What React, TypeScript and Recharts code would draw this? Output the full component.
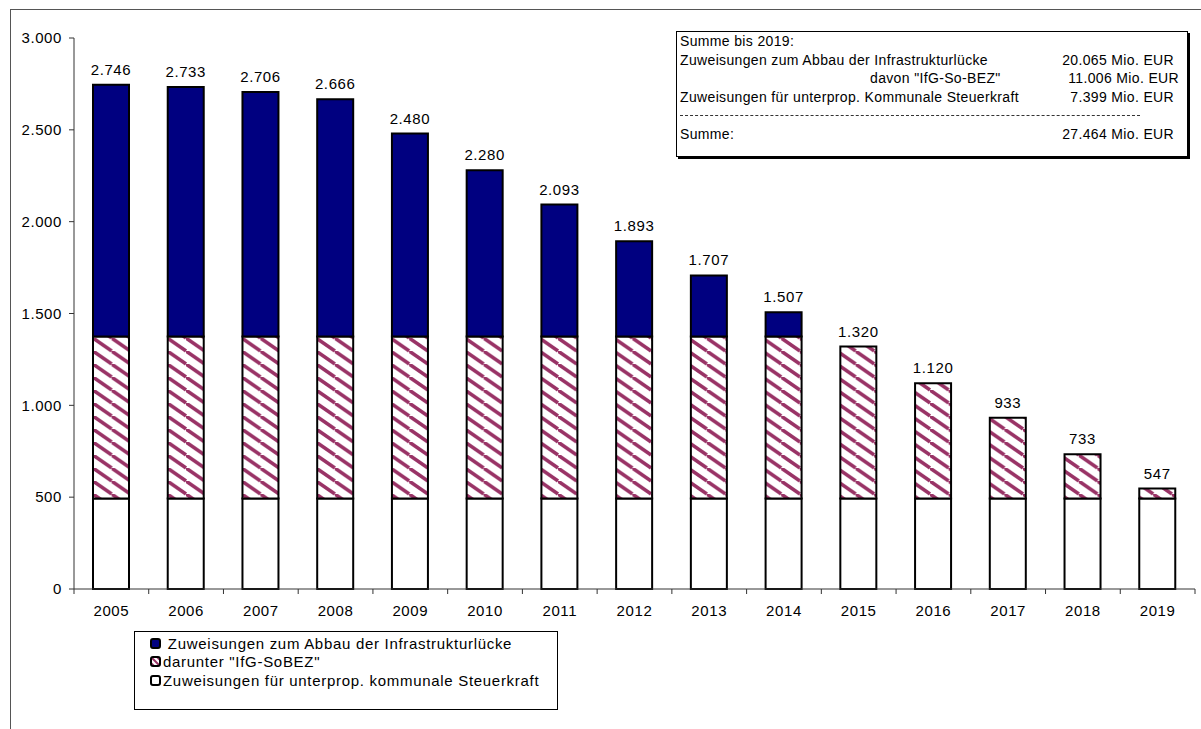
import React from 'react';
import { BarChart, Bar, XAxis, YAxis, LabelList, Legend } from 'recharts';

const YEARS = ['2005', '2006', '2007', '2008', '2009', '2010', '2011', '2012', '2013', '2014', '2015', '2016', '2017', '2018', '2019'];
const TOTALS = [2746, 2733, 2706, 2666, 2480, 2280, 2093, 1893, 1707, 1507, 1320, 1120, 933, 733, 547];
// white part: Zuweisungen für unterprop. kommunale Steuerkraft
const STEUERKRAFT = [493, 493, 493, 493, 493, 493, 493, 493, 493, 493, 493, 493, 493, 493, 493];
// hatched part: IfG-SoBEZ
const SOBEZ = [882, 882, 882, 882, 882, 882, 882, 882, 882, 882, 827, 627, 440, 240, 54];
// blue part above the hatching
const ABBAU_REST = [1371, 1358, 1331, 1291, 1105, 905, 718, 518, 332, 132, 0, 0, 0, 0, 0];
const Y_TICKS = [0, 500, 1000, 1500, 2000, 2500, 3000];

const SUMMARY = [
  { label: 'Zuweisungen zum Abbau der Infrastrukturlücke', value: '20.065 Mio. EUR' },
  { label: 'davon "IfG-So-BEZ"', value: '11.006 Mio. EUR', indent: 190, shift: -5 },
  { label: 'Zuweisungen für unterprop. Kommunale Steuerkraft', value: '7.399 Mio. EUR' },
];

const LEGEND_ITEMS = [
  { name: ' Zuweisungen zum Abbau der Infrastrukturlücke', fill: '#000080' },
  { name: 'darunter "IfG-SoBEZ"', fill: 'url(#hatch)' },
  { name: 'Zuweisungen für unterprop. kommunale Steuerkraft', fill: '#ffffff' },
];

const FONT = '"Liberation Sans", Arial, sans-serif';
const TICK_SIZE = 5;
const TICK_MARGIN = 11;
const HATCH_W = 18.6;
const HATCH_H = 13;
const LABEL_GAP = 10;

const data = YEARS.map((year, i) => ({
  year,
  total: TOTALS[i],
  steuerkraft: STEUERKRAFT[i],
  sobez: SOBEZ[i],
  abbau: ABBAU_REST[i],
}));

const fmt = (v: number) => String(v).replace(/\B(?=(\d{3})+(?!\d))/g, '.');

// total label sits on the blue part where there is one, otherwise on the hatched part
const makeTotalLabel = (forNoBlue: boolean) => (props: any) => {
  const { x, y, width, value } = props;
  const i = typeof props.index === 'number' ? props.index : TOTALS.indexOf(Number(value));
  if (i < 0) return null;
  const noBlue = ABBAU_REST[i] === 0;
  if (noBlue !== forNoBlue) return null;
  return (
    <text
      x={Number(x) + Number(width) / 2}
      y={Number(y) - LABEL_GAP}
      textAnchor="middle"
      fontSize={15}
      fontFamily={FONT}
      letterSpacing={0.6}
      fill="#000"
    >
      {fmt(TOTALS[i])}
    </text>
  );
};

const YearTick = (props: any) => {
  const { x, y, payload, index } = props;
  const half = payload && payload.offset ? payload.offset : 37.37;
  const axisY = y - TICK_SIZE - TICK_MARGIN;
  return (
    <g>
      <line x1={x - half} x2={x - half} y1={axisY} y2={axisY + TICK_SIZE} stroke="#333" />
      {index === YEARS.length - 1 && (
        <line x1={x + half} x2={x + half} y1={axisY} y2={axisY + TICK_SIZE} stroke="#333" />
      )}
      <text x={x} y={y} dy="0.71em" textAnchor="middle" fontSize={15} letterSpacing={0.6} fill="#000" fontFamily={FONT}>
        {payload.value}
      </text>
    </g>
  );
};

const LegendIcon = ({ fill }: { fill: string }) => (
  <svg width={11} height={11} style={{ display: 'block', marginRight: 2 }}>
    <defs>
      <pattern id="hatchSmall" patternUnits="userSpaceOnUse" width={6} height={6}>
        <path d="M0,0 L6,6 M-3,3 L3,9 M3,-3 L9,3" stroke="#993366" strokeWidth={2} />
      </pattern>
    </defs>
    <rect x={1} y={1} width={9} height={9} rx={2} fill={fill === 'url(#hatch)' ? 'url(#hatchSmall)' : fill} stroke="#000" strokeWidth={2} />
  </svg>
);

const renderLegend = () => (
  <div
    style={{
      boxSizing: 'border-box',
      width: 424,
      height: 79,
      border: '1px solid #000',
      background: '#fff',
      padding: '2px 0 0 15px',
      fontFamily: FONT,
      fontSize: 15,
      letterSpacing: 0.7,
      color: '#000',
    }}
  >
    {LEGEND_ITEMS.map((item) => (
      <div key={item.name} style={{ display: 'flex', alignItems: 'center', height: 18.5, whiteSpace: 'pre' }}>
        <LegendIcon fill={item.fill} />
        <span>{item.name}</span>
      </div>
    ))}
  </div>
);

const SummaryBox = () => (
  <div
    style={{
      position: 'absolute',
      left: 676,
      top: 31,
      width: 512,
      height: 126,
      boxSizing: 'border-box',
      border: '1.5px solid #000',
      boxShadow: '2px 2px 0 #000',
      background: '#fff',
      padding: '0 13px 0 3px',
      fontFamily: FONT,
      fontSize: 14,
      letterSpacing: 0.35,
      lineHeight: '18.6px',
      color: '#000',
    }}
  >
    <div>Summe bis 2019:</div>
    {SUMMARY.map((row) => (
      <div key={row.label} style={{ display: 'flex', justifyContent: 'space-between' }}>
        <span style={{ marginLeft: row.indent || 0 }}>{row.label}</span>
        <span style={{ marginRight: row.shift || 0 }}>{row.value}</span>
      </div>
    ))}
    <div style={{ height: 18.6, display: 'flex', alignItems: 'center' }}>
      <div style={{ width: 460, borderTop: '1px dashed #333' }} />
    </div>
    <div style={{ display: 'flex', justifyContent: 'space-between' }}>
      <span>Summe:</span>
      <span>27.464 Mio. EUR</span>
    </div>
  </div>
);

export default function App() {
  return (
    <div style={{ position: 'absolute', left: 0, top: 0, width: 1201, height: 729, background: '#fff', overflow: 'hidden' }}>
      <div
        style={{
          position: 'absolute',
          left: 10,
          top: 9,
          width: 1300,
          height: 800,
          borderLeft: '1.5px solid #555',
          borderTop: '1.5px solid #555',
        }}
      />
      <BarChart
        width={1201}
        height={729}
        data={data}
        margin={{ top: 38, right: 6, bottom: 110, left: 0 }}
        barSize={36}
        style={{ position: 'absolute', left: 0, top: 0 }}
      >
        <defs>
          <pattern id="hatch" patternUnits="userSpaceOnUse" width={HATCH_W} height={HATCH_H}>
            <rect width={HATCH_W} height={HATCH_H} fill="#fff" />
            <path
              d={`M0,0 L${HATCH_W},${HATCH_H} M0,${-HATCH_H} L${HATCH_W},0 M${-HATCH_W},0 L0,${HATCH_H}`}
              stroke="#993366"
              strokeWidth={3.5}
            />
          </pattern>
        </defs>
        <XAxis
          dataKey="year"
          height={30}
          tickLine={false}
          tickSize={TICK_SIZE}
          tickMargin={TICK_MARGIN}
          stroke="#333"
          tick={<YearTick />}
          interval={0}
        />
        <YAxis
          width={74}
          domain={[0, 3000]}
          ticks={Y_TICKS}
          tickFormatter={fmt}
          tickSize={5}
          tickMargin={7}
          stroke="#333"
          tick={{ fill: '#000', fontSize: 15, fontFamily: FONT, letterSpacing: 0.6 }}
        />
        <Legend
          layout="horizontal"
          verticalAlign="middle"
          align="center"
          content={renderLegend}
          wrapperStyle={{ left: 134, top: 631, width: 424, height: 79 }}
        />
        <Bar dataKey="steuerkraft" stackId="a" fill="#ffffff" stroke="#000" strokeWidth={2} isAnimationActive={false} />
        <Bar dataKey="sobez" stackId="a" fill="url(#hatch)" stroke="#000" strokeWidth={2} isAnimationActive={false}>
          <LabelList dataKey="total" content={makeTotalLabel(true)} />
        </Bar>
        <Bar dataKey="abbau" stackId="a" fill="#000080" stroke="#000" strokeWidth={2} isAnimationActive={false}>
          <LabelList dataKey="total" content={makeTotalLabel(false)} />
        </Bar>
      </BarChart>
      <SummaryBox />
    </div>
  );
}
